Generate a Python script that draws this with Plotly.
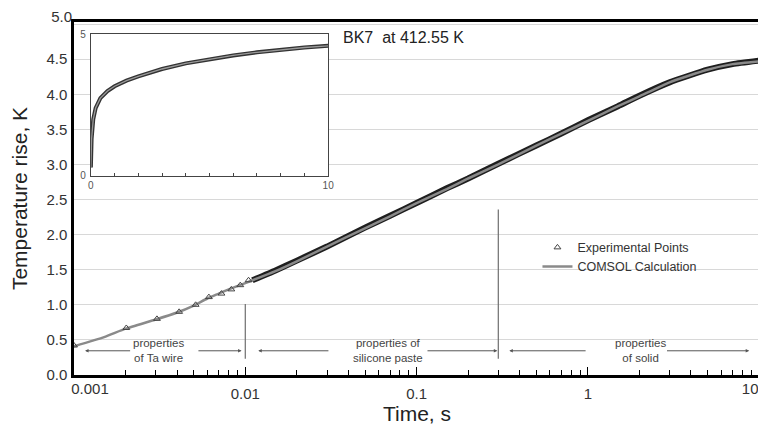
import math
import plotly.graph_objects as go

FONT = "Liberation Sans, Arial, sans-serif"

# ---------------- data ----------------
# sparse experimental points, t < 0.011 s
exp_early_t = [0.001, 0.00202, 0.00305, 0.00411, 0.00513, 0.00613, 0.00726, 0.00829, 0.00935, 0.01045]
exp_early_v = [0.42, 0.67, 0.80, 0.90, 1.00, 1.11, 1.16, 1.22, 1.28, 1.35]

# dense experimental points (appear as a black band)
exp_band_t = [0.011, 0.015, 0.02, 0.03, 0.05, 0.07, 0.1, 0.15, 0.2, 0.3,
              0.5, 0.7, 1, 1.5, 2, 3, 5, 7, 10]
exp_band_v = [1.35, 1.49, 1.63, 1.83, 2.10, 2.27, 2.45, 2.66, 2.80, 3.01,
              3.27, 3.44, 3.63, 3.83, 3.98, 4.17, 4.35, 4.43, 4.48]

# COMSOL calculation
comsol_t = [0.001, 0.0015, 0.002, 0.003, 0.004, 0.005, 0.006, 0.007, 0.008, 0.01,
            0.015, 0.02, 0.03, 0.05, 0.07, 0.1, 0.15, 0.2, 0.3, 0.5, 0.7,
            1, 1.5, 2, 3, 5, 7, 10]
comsol_v = [0.41, 0.54, 0.66, 0.79, 0.89, 0.99, 1.09, 1.16, 1.22, 1.31,
            1.48, 1.62, 1.83, 2.09, 2.26, 2.45, 2.65, 2.80, 3.00, 3.27, 3.44,
            3.62, 3.83, 3.97, 4.17, 4.35, 4.43, 4.47]

# inset (linear time axis)
inset_t = [0, 0.03, 0.1, 0.2, 0.4, 0.7, 1, 1.5, 2, 3, 4, 5, 6, 7, 8, 9, 10]
inset_v = [0.3, 1.3, 2.0, 2.4, 2.75, 3.0, 3.17, 3.37, 3.52, 3.78, 3.98, 4.13,
           4.26, 4.37, 4.46, 4.54, 4.6]

# region boundaries (s) and heights of the separator lines (K)
boundary_t = [0.01, 0.3]
boundary_top = [1.01, 2.36]
boundary_bottom = 0.23

# region labels: (text, centre time)
regions = [
    ("properties<br>of Ta wire", 0.0031),
    ("properties of<br>silicone paste", 0.068),
    ("properties<br>of solid", 2.02),
]
# arrows: (tail time, head time)
arrows = [
    (0.00217, 0.00116), (0.00522, 0.00951),
    (0.0312, 0.0119), (0.1135, 0.296),
    (0.99, 0.348), (2.84, 8.75),
]

# x tick labels (the two end labels sit beside their ticks, as in the original)
x_tickvals = [0.001, 0.01, 0.1, 1, 10]
x_ticktext = ["0.001", "0.01", "0.1", "1", "10"]
x_minor = [m * d for d in [0.001, 0.01, 0.1, 1] for m in range(2, 10)]
y_tickvals = [i * 0.5 for i in range(11)]
y_ticktext = [f"{v:.1f}" for v in y_tickvals]

X_RANGE = [-3, 1.005]
Y_RANGE = [0, 5.03]
TICKFONT = dict(family=FONT, size=15, color="#333333")

fig = go.Figure()

# dense band of experimental points
fig.add_trace(go.Scatter(
    x=exp_band_t, y=exp_band_v, mode="lines",
    line=dict(color="#1e1e1e", width=6, shape="spline", smoothing=0.5),
    showlegend=False, hoverinfo="skip"))

# COMSOL calculation line
fig.add_trace(go.Scatter(
    x=comsol_t, y=comsol_v, mode="lines", name="COMSOL Calculation",
    line=dict(color="#8a8a8a", width=2.5, shape="spline", smoothing=0.5),
    legendrank=2))

# sparse experimental triangles (on the overlay y axis, same range as the main one)
fig.add_trace(go.Scatter(
    x=exp_early_t, y=exp_early_v, mode="markers", name="Experimental Points",
    xaxis="x", yaxis="y3",
    marker=dict(symbol="triangle-up-open", size=6, color="#444444",
                line=dict(width=1, color="#444444")),
    legendrank=1))

# separators between regions (drawn on the two overlay x axes, which share the
# main x axis range exactly, so that those axes are rendered)
for bt, top, xa in zip(boundary_t, boundary_top, ["x3", "x4"]):
    fig.add_trace(go.Scatter(
        x=[bt, bt], y=[boundary_bottom, top], mode="lines", xaxis=xa, yaxis="y",
        line=dict(color="#6e6e6e", width=1.2), showlegend=False, hoverinfo="skip"))

# inset curve
fig.add_trace(go.Scatter(
    x=inset_t, y=inset_v, mode="lines", xaxis="x2", yaxis="y2",
    line=dict(color="#333333", width=4),
    showlegend=False, hoverinfo="skip"))
fig.add_trace(go.Scatter(
    x=inset_t, y=inset_v, mode="lines", xaxis="x2", yaxis="y2",
    line=dict(color="#9a9a9a", width=1.3),
    showlegend=False, hoverinfo="skip"))

annotations = []
for txt, tc in regions:
    annotations.append(dict(x=math.log10(tc), y=0.355, xref="x", yref="y", text=txt,
                            showarrow=False, yanchor="middle",
                            font=dict(family=FONT, size=11.5, color="#444444")))
for tail, head in arrows:
    annotations.append(dict(x=math.log10(head), y=0.345, ax=math.log10(tail), ay=0.345,
                            xref="x", yref="y", axref="x", ayref="y", text="",
                            showarrow=True, arrowhead=2, arrowsize=0.7, arrowwidth=1,
                            arrowcolor="#555555"))
annotations.append(dict(x=0.389, y=0.956, xref="paper", yref="paper",
                        xanchor="left", yanchor="middle", showarrow=False,
                        text="BK7\u00a0\u00a0at 412.55 K",
                        font=dict(family=FONT, size=16, color="#222222")))

# the page body adds an 8 px margin, so the figure is 8 px smaller than the window
fig.update_layout(
    width=758, height=427,
    margin=dict(l=66, r=1, t=0, b=60),
    paper_bgcolor="white", plot_bgcolor="white",
    font=dict(family=FONT, color="#333333"),
    showlegend=True,
    legend=dict(x=0.6756, y=0.403, xanchor="left", yanchor="top",
                bgcolor="rgba(0,0,0,0)", font=dict(family=FONT, size=12.5, color="#333333"),
                tracegroupgap=0, itemwidth=30),
    xaxis=dict(type="log", range=X_RANGE, domain=[0, 1],
               showline=True, mirror=True, linecolor="black", linewidth=2.5,
               ticks="inside", ticklen=8, tickwidth=1.2, tickcolor="black",
               tickmode="array", tickvals=x_tickvals,
               ticktext=[""] + x_ticktext[1:-1] + [""],
               minor=dict(tickmode="array", tickvals=x_minor, ticks="inside",
                          ticklen=5, tickwidth=1, tickcolor="black", showgrid=False),
               showgrid=False, zeroline=False, ticklabelstandoff=3,
               tickfont=TICKFONT,
               title=dict(text="Time, s", standoff=4,
                          font=dict(family=FONT, size=21, color="#222222"))),
    # first tick label, shifted right of its tick
    xaxis3=dict(type="log", range=X_RANGE, overlaying="x", anchor="y", side="bottom",
                showline=False, ticks="", showgrid=False, zeroline=False,
                tickmode="array", tickvals=x_tickvals[:1], ticktext=x_ticktext[:1],
                ticklabelshift=16, ticklabelstandoff=3,
                ticklabeloverflow="allow", tickfont=TICKFONT),
    # last tick label, shifted left of its tick
    xaxis4=dict(type="log", range=X_RANGE, overlaying="x", anchor="y", side="bottom",
                showline=False, ticks="", showgrid=False, zeroline=False,
                tickmode="array", tickvals=x_tickvals[-1:], ticktext=x_ticktext[-1:],
                ticklabelshift=-9, ticklabelstandoff=3,
                ticklabeloverflow="allow", tickfont=TICKFONT),
    yaxis=dict(range=Y_RANGE, domain=[0, 1],
               showline=True, mirror=True, linecolor="black", linewidth=2.5,
               ticks="", tickmode="array", tickvals=y_tickvals,
               ticktext=y_ticktext[:-1] + [""],
               showgrid=True, gridcolor="#d8d8d8", gridwidth=1, zeroline=False,
               ticklabelstandoff=1,
               tickfont=TICKFONT,
               title=dict(text="Temperature rise, K", standoff=14,
                          font=dict(family=FONT, size=21, color="#222222"))),
    # top tick label, nudged down below the frame as in the original
    yaxis3=dict(range=Y_RANGE, overlaying="y", anchor="x", side="left",
                showline=False, ticks="", showgrid=False, zeroline=False,
                tickmode="array", tickvals=y_tickvals[-1:], ticktext=y_ticktext[-1:],
                ticklabelshift=-7, ticklabelstandoff=1,
                ticklabeloverflow="allow", tickfont=TICKFONT),
    xaxis2=dict(domain=[0.0246, 0.3705], anchor="y2", range=[0, 10],
                showline=True, mirror=True, linecolor="#444444", linewidth=1.2,
                ticks="inside", ticklen=3, tickcolor="#444444",
                tickmode="array", tickvals=[0, 10], ticktext=["0", "10"],
                minor=dict(tickmode="array", tickvals=list(range(1, 10)), ticks="inside",
                           ticklen=3, tickcolor="#444444", showgrid=False),
                showgrid=False, zeroline=False,
                tickfont=dict(family=FONT, size=10, color="#555555")),
    yaxis2=dict(domain=[0.564, 0.9646], anchor="x2", range=[0, 5],
                showline=True, mirror=True, linecolor="#444444", linewidth=1.2,
                ticks="", tickmode="array", tickvals=[0, 5], ticktext=["0", "5"],
                showgrid=False, zeroline=False, ticklabelstandoff=2,
                tickfont=dict(family=FONT, size=10, color="#555555")),
    shapes=[dict(type="rect", xref="x2 domain", yref="y2 domain", x0=0, x1=1, y0=0, y1=1,
                 fillcolor="white", line=dict(width=0), layer="below")],
    annotations=annotations,
)

fig.write_html("out.html")
